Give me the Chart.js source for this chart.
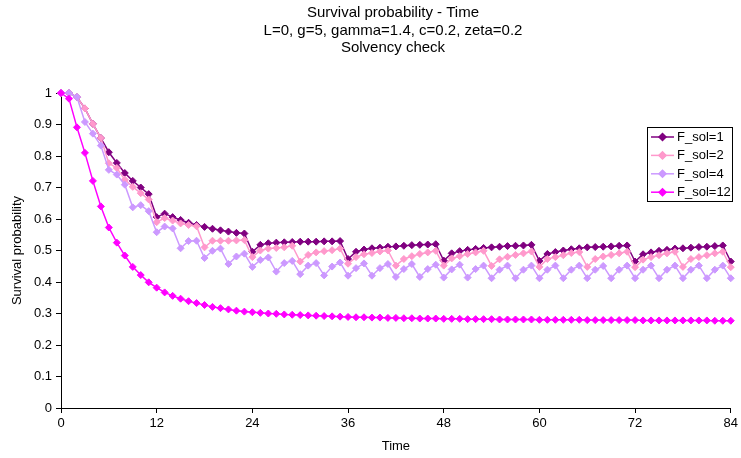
<!DOCTYPE html>
<html>
<head>
<meta charset="utf-8">
<script src="https://cdn.jsdelivr.net/npm/chart.js@4.4.1/dist/chart.umd.min.js"></script>
<style>
    html, body { margin: 0; padding: 0; background: #fff; }
</style>
</head>
<body>
<canvas id="chart" width="741" height="458"></canvas>
<script>
// ============================
// Data
// ============================
const time = [
    0, 1, 2, 3, 4, 5, 6, 7, 8, 9, 10, 11, 12, 13, 14, 15, 16, 17, 18, 19, 20,
    21, 22, 23, 24, 25, 26, 27, 28, 29, 30, 31, 32, 33, 34, 35, 36, 37, 38, 39, 40,
    41, 42, 43, 44, 45, 46, 47, 48, 49, 50, 51, 52, 53, 54, 55, 56, 57, 58, 59, 60,
    61, 62, 63, 64, 65, 66, 67, 68, 69, 70, 71, 72, 73, 74, 75, 76, 77, 78, 79, 80,
    81, 82, 83, 84
];

const fsol1 = [
    1.000, 1.000, 0.987, 0.951, 0.902, 0.857, 0.812, 0.778, 0.746, 0.721, 0.700,
    0.679, 0.606, 0.617, 0.606, 0.597, 0.588, 0.581, 0.575, 0.569, 0.564,
    0.560, 0.556, 0.554, 0.496, 0.518, 0.523, 0.525, 0.526, 0.527, 0.528,
    0.528, 0.528, 0.529, 0.529, 0.530, 0.473, 0.496, 0.503, 0.507, 0.509,
    0.512, 0.513, 0.515, 0.517, 0.518, 0.519, 0.520, 0.468, 0.491, 0.498,
    0.502, 0.505, 0.508, 0.510, 0.512, 0.514, 0.515, 0.516, 0.518, 0.467,
    0.489, 0.495, 0.500, 0.504, 0.507, 0.510, 0.511, 0.512, 0.513, 0.515,
    0.516, 0.465, 0.488, 0.494, 0.499, 0.502, 0.506, 0.507, 0.509, 0.511,
    0.512, 0.514, 0.516, 0.465
];

const fsol2 = [
    1.000, 1.000, 0.987, 0.951, 0.902, 0.857, 0.777, 0.762, 0.725, 0.702, 0.682,
    0.662, 0.590, 0.603, 0.595, 0.586, 0.581, 0.577, 0.510, 0.531, 0.531,
    0.531, 0.532, 0.533, 0.479, 0.500, 0.506, 0.508, 0.510, 0.515, 0.465,
    0.486, 0.494, 0.498, 0.501, 0.506, 0.458, 0.479, 0.488, 0.492, 0.497,
    0.500, 0.452, 0.473, 0.482, 0.489, 0.494, 0.499, 0.452, 0.475, 0.482,
    0.489, 0.494, 0.499, 0.451, 0.472, 0.480, 0.486, 0.491, 0.497, 0.448,
    0.473, 0.479, 0.485, 0.492, 0.495, 0.448, 0.473, 0.481, 0.486, 0.491,
    0.496, 0.447, 0.471, 0.479, 0.485, 0.491, 0.496, 0.448, 0.473, 0.479,
    0.485, 0.491, 0.496, 0.447
];

const fsol4 = [
    1.000, 1.000, 0.987, 0.908, 0.871, 0.833, 0.756, 0.741, 0.709, 0.637, 0.644,
    0.625, 0.558, 0.576, 0.570, 0.507, 0.530, 0.531, 0.476, 0.499, 0.506,
    0.457, 0.481, 0.490, 0.448, 0.470, 0.478, 0.433, 0.460, 0.467, 0.425,
    0.452, 0.460, 0.421, 0.449, 0.462, 0.420, 0.444, 0.459, 0.420, 0.444,
    0.457, 0.416, 0.441, 0.457, 0.416, 0.441, 0.455, 0.414, 0.440, 0.455,
    0.414, 0.441, 0.452, 0.412, 0.439, 0.452, 0.412, 0.439, 0.452, 0.412,
    0.439, 0.452, 0.412, 0.439, 0.452, 0.412, 0.439, 0.451, 0.412, 0.439,
    0.452, 0.412, 0.439, 0.452, 0.412, 0.439, 0.452, 0.412, 0.439, 0.452,
    0.412, 0.439, 0.452, 0.412
];

const fsol12 = [
    1.000, 0.982, 0.891, 0.810, 0.721, 0.640, 0.573, 0.525, 0.484, 0.448, 0.422,
    0.399, 0.382, 0.367, 0.356, 0.347, 0.339, 0.333, 0.327, 0.321, 0.317,
    0.313, 0.309, 0.306, 0.304, 0.302, 0.300, 0.299, 0.297, 0.296, 0.295,
    0.294, 0.293, 0.292, 0.291, 0.290, 0.289, 0.288, 0.288, 0.287, 0.287,
    0.286, 0.286, 0.285, 0.285, 0.284, 0.284, 0.284, 0.283, 0.283, 0.283,
    0.282, 0.282, 0.282, 0.282, 0.281, 0.281, 0.281, 0.281, 0.281, 0.280,
    0.280, 0.280, 0.280, 0.280, 0.280, 0.279, 0.279, 0.279, 0.279, 0.279,
    0.279, 0.279, 0.278, 0.278, 0.278, 0.278, 0.278, 0.278, 0.278, 0.278,
    0.278, 0.277, 0.277, 0.277
];

const seriesNames = ["F_sol=1", "F_sol=2", "F_sol=4", "F_sol=12"];
const seriesColors = ["#800080", "#FF99CC", "#CC99FF", "#FF00FF"];
const titleLines = [
    "Survival probability - Time",
    "L=0, g=5, gamma=1.4, c=0.2, zeta=0.2",
    "Solvency check"
];

const FONT = "'Liberation Sans', Arial, sans-serif";

// ============================
// Title, centred over the plot like the original
// ============================
const chartTitle = {
    id: "chartTitle",
    afterDraw(chart) {
        const ctx = chart.ctx;
        ctx.save();
        ctx.font = "15px " + FONT;
        ctx.fillStyle = "#000";
        ctx.textAlign = "center";
        ctx.textBaseline = "middle";
        titleLines.forEach((line, i) => {
            ctx.fillText(line, 393, 13 + i * 17.5);
        });
        ctx.restore();
    }
};

// ============================
// Legend box drawn inside the plot
// ============================
const boxLegend = {
    id: "boxLegend",
    afterDraw(chart) {
        const ctx = chart.ctx;
        const left = 647, top = 127, w = 85, h = 74;

        ctx.save();
        ctx.fillStyle = "#fff";
        ctx.fillRect(left, top, w, h);
        ctx.strokeStyle = "#000";
        ctx.lineWidth = 1;
        ctx.strokeRect(left + 0.5, top + 0.5, w, h);

        ctx.font = "13px " + FONT;
        ctx.textBaseline = "middle";
        ctx.textAlign = "left";

        chart.data.datasets.forEach((ds, i) => {
            const y = top + 10 + i * 18.4;
            ctx.strokeStyle = ds.borderColor;
            ctx.lineWidth = 1.5;
            ctx.beginPath();
            ctx.moveTo(left + 4, y);
            ctx.lineTo(left + 27, y);
            ctx.stroke();

            Chart.helpers.drawPoint(ctx, {
                pointStyle: "rectRot",
                radius: 3.5,
                borderWidth: 1
            }, left + 15.5, y);
            ctx.fillStyle = ds.borderColor;
            ctx.fill();

            ctx.fillStyle = "#000";
            ctx.fillText(ds.label, left + 30, y + 0.5);
        });
        ctx.restore();
    }
};

// ============================
// Chart
// ============================
document.addEventListener("DOMContentLoaded", function () {

    if (typeof Chart === "undefined") return;

    const allSeries = [fsol1, fsol2, fsol4, fsol12];

    const datasets = allSeries.map((values, i) => ({
        label: seriesNames[i],
        data: values.map((v, k) => ({ x: time[k], y: v })),
        borderColor: seriesColors[i],
        backgroundColor: seriesColors[i],
        pointBackgroundColor: seriesColors[i],
        pointBorderColor: seriesColors[i],
        borderWidth: 1.5,
        pointStyle: "rectRot",
        pointRadius: 3.5,
        pointBorderWidth: 1,
        tension: 0,
        clip: false,
        order: 4 - i
    }));

    new Chart(document.getElementById("chart"), {
        type: "line",
        data: { datasets: datasets },
        options: {
            responsive: false,
            animation: false,
            devicePixelRatio: 1,
            layout: {
                padding: { left: 0, right: 8, top: 93, bottom: 0 }
            },
            plugins: {
                legend: { display: false },
                tooltip: { enabled: false },
                title: { display: false }
            },
            scales: {
                x: {
                    type: "linear",
                    min: 0,
                    max: 84,
                    afterFit(scale) { scale.height = 50; },
                    border: { color: "#000", width: 1 },
                    grid: { drawOnChartArea: false, drawTicks: true, tickLength: 5, color: "#000" },
                    ticks: {
                        stepSize: 12,
                        color: "#000",
                        padding: 3,
                        maxRotation: 0,
                        font: { family: FONT, size: 13 }
                    },
                    title: {
                        display: true,
                        text: "Time",
                        color: "#000",
                        font: { family: FONT, size: 13 },
                        padding: { top: 0, bottom: 4 }
                    }
                },
                y: {
                    min: 0,
                    max: 1,
                    afterFit(scale) { scale.width = 61; },
                    border: { color: "#000", width: 1 },
                    grid: { drawOnChartArea: false, drawTicks: true, tickLength: 5, color: "#000" },
                    ticks: {
                        stepSize: 0.1,
                        color: "#000",
                        padding: 4,
                        font: { family: FONT, size: 13 },
                        callback: (value) => String(Math.round(value * 10) / 10)
                    },
                    title: {
                        display: true,
                        text: "Survival probability",
                        color: "#000",
                        font: { family: FONT, size: 13 },
                        padding: { top: 10, bottom: 0 }
                    }
                }
            }
        },
        plugins: [chartTitle, boxLegend]
    });
});
</script>
</body>
</html>
